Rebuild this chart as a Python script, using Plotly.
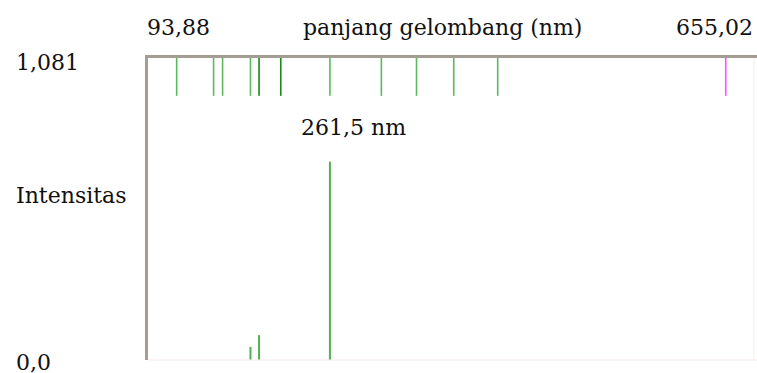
import plotly.graph_objects as go

# ---- data ----
wl_min = 93.88
wl_max = 655.02
intensity_max = 1.081

# emission lines shown in the top strip (nm)
strip_wavelengths = [120.3, 154.3, 162.6, 188.3, 196.2, 216.2, 261.5, 308.9, 341.3, 375.6, 416.1, 626.2]
strip_kind = ["weak", "weak", "weak", "weak", "strong", "strong", "weak", "weak", "weak", "weak", "weak", "red"]

# lines with measured intensity (bottom panel)
peak_wavelengths = [188.3, 196.2, 261.5]
peak_intensities = [0.047, 0.089, 0.710]

label_peak = "261,5 nm"
x_title = "panjang gelombang (nm)"
y_title = "Intensitas"
x_min_label = "93,88"
x_max_label = "655,02"
y_max_label = "1,081"
y_min_label = "0,0"

# ---- style ----
FONT = "DejaVu Serif"
FS = 22
AXIS_GRAY = "#a39d94"
KIND_COLOR = {"weak": "#5cb85c", "strong": "#138a13", "red": "#ff4dff"}
STRIP_FRAC = 38 / 303.0

fig = go.Figure()

strip_bottom = intensity_max * (1 - STRIP_FRAC)
for w, k in zip(strip_wavelengths, strip_kind):
    fig.add_trace(go.Scatter(
        x=[w, w], y=[intensity_max, strip_bottom], mode="lines",
        line=dict(color=KIND_COLOR[k], width=1.6), hoverinfo="skip", showlegend=False))

for w, v in zip(peak_wavelengths, peak_intensities):
    fig.add_trace(go.Scatter(
        x=[w, w], y=[0, v], mode="lines",
        line=dict(color="#52b152", width=2), hoverinfo="skip", showlegend=False))

annots = [
    dict(text=x_min_label, x=wl_min, y=1, yref="paper", xanchor="left", yanchor="bottom", yshift=16, xshift=-3),
    dict(text=x_title, x=0.483, xref="paper", y=1, yref="paper", xanchor="center", yanchor="bottom", yshift=16),
    dict(text=x_max_label, x=wl_max, y=1, yref="paper", xanchor="right", yanchor="bottom", yshift=16, xshift=-2),
    dict(text=y_max_label, x=0, xref="paper", xshift=-134, y=intensity_max, xanchor="left", yanchor="top", yshift=10),
    dict(text=y_title, x=0, xref="paper", xshift=-134, y=0.545, yref="paper", xanchor="left", yanchor="middle"),
    dict(text=y_min_label, x=0, xref="paper", xshift=-134, y=0, xanchor="left", yanchor="top", yshift=12),
    dict(text=label_peak, x=peak_wavelengths[2], y=peak_intensities[2], xanchor="left", yanchor="bottom",
         xshift=-31, yshift=20),
]
for a in annots:
    a.setdefault("xref", "x")
    a.setdefault("yref", "y")
    a["showarrow"] = False
    a["font"] = dict(family=FONT, size=FS, color="#111111")
fig.update_layout(annotations=annots)

# faint bottom / right borders
fig.add_shape(type="line", xref="paper", yref="paper", x0=0, x1=1, y0=0, y1=0,
              line=dict(color="#fde8e8", width=1))
fig.add_shape(type="line", xref="paper", yref="paper", x0=0.995, x1=0.995, y0=0, y1=1,
              line=dict(color="#fde8e8", width=1))

fig.update_xaxes(range=[wl_min, wl_max], side="top", showline=True, linecolor=AXIS_GRAY, linewidth=3,
                 showgrid=False, zeroline=False, showticklabels=False, ticks="")
fig.update_yaxes(range=[0, intensity_max], showline=True, linecolor=AXIS_GRAY, linewidth=3,
                 showgrid=False, zeroline=False, showticklabels=False, ticks="")

fig.update_layout(
    width=757, height=373,
    margin=dict(l=148, r=0, t=58, b=13, autoexpand=False),
    paper_bgcolor="white", plot_bgcolor="white",
    font=dict(family=FONT, size=FS),
)

fig.write_html(
    "out.html",
    config={"displayModeBar": False},
    post_script="document.body.style.margin='0';document.documentElement.style.overflow='hidden';",
)
